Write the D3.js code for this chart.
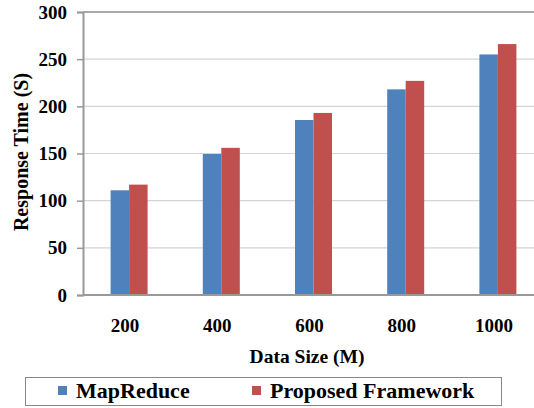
<!DOCTYPE html>
<html><head><meta charset="utf-8">
<script src="https://cdn.jsdelivr.net/npm/d3@7"></script>
<style>body{margin:0;background:#fff}svg{display:block}
svg text{font-family:"Liberation Serif","Times New Roman",Tinos,"DejaVu Serif",serif !important;font-weight:bold;fill:#000}</style>
</head><body>
<svg id="c" width="534" height="408"></svg>
<script>
const categories = ["200","400","600","800","1000"];
const mapReduce = [111, 149.5, 185.5, 218, 255];
const proposed = [117, 156, 193, 227, 266];
const seriesNames = ["MapReduce","Proposed Framework"];
const yTicks = [0,50,100,150,200,250,300];
const colors = ["#4F81BD","#C0504D"];

const svg = d3.select("#c");
const m = {l:83, t:12, b:295};
const plotW = 461;

const x = d3.scaleBand().domain(categories).range([m.l, m.l+plotW]).paddingInner(0).paddingOuter(0);
const y = d3.scaleLinear().domain([0,300]).range([m.b, m.t]);
const bw = 18.5;

// gridlines
svg.append("g").selectAll("line").data(yTicks.filter(d=>d>0 && d<300)).join("line")
  .attr("x1", m.l).attr("x2", m.l+plotW).attr("y1", d=>y(d)).attr("y2", d=>y(d))
  .attr("stroke","#d4d4d4").attr("stroke-width",1.2);
// top border
svg.append("line").attr("x1", m.l).attr("x2", m.l+plotW).attr("y1", y(300)).attr("y2", y(300))
  .attr("stroke","#555").attr("stroke-width",1.2);

// bars
const data = categories.map((c,i)=>({c, vals:[mapReduce[i], proposed[i]]}));
const g = svg.append("g");
data.forEach(d=>{
  d.vals.forEach((v,j)=>{
    const cx = x(d.c) + x.bandwidth()/2;
    g.append("rect")
      .attr("x", cx - bw + j*bw).attr("width", bw)
      .attr("y", y(v)).attr("height", y(0)-y(v))
      .attr("fill", colors[j]);
  });
});

// y axis
const ya = d3.axisLeft(y).tickValues(yTicks).tickSize(6).tickPadding(10);
const yg = svg.append("g").attr("transform",`translate(${m.l},0)`).call(ya);
yg.attr("font-family",null);
yg.select(".domain").attr("stroke","#999").attr("stroke-width",2);
yg.selectAll(".tick line").attr("stroke","#999").attr("stroke-width",1.5);
yg.selectAll(".tick text").attr("font-size",19);

// x axis
const xa = d3.axisBottom(x).tickSize(0).tickPadding(24);
const xg = svg.append("g").attr("transform",`translate(-4,${m.b})`).call(xa);
xg.attr("font-family",null);
xg.select(".domain").remove();
xg.selectAll(".tick text").attr("font-size",19);
svg.append("line").attr("x1", m.l).attr("x2", m.l+plotW).attr("y1", m.b).attr("y2", m.b)
  .attr("stroke","#999").attr("stroke-width",2);

// titles
svg.append("text").attr("x",307).attr("y",363).attr("text-anchor","middle")
  .attr("font-size",19.5).text("Data Size (M)");
svg.append("text").attr("transform","translate(28,152) rotate(-90)").attr("text-anchor","middle")
  .attr("font-size",20).text("Response Time (S)");

// legend
svg.append("rect").attr("x",25.5).attr("y",377.5).attr("width",476).attr("height",28)
  .attr("fill","#fff").attr("stroke","#888").attr("stroke-width",1);
const lx = [58, 252];
seriesNames.forEach((n,i)=>{
  svg.append("rect").attr("x",lx[i]).attr("y",386).attr("width",9).attr("height",9).attr("fill",colors[i]);
  svg.append("text").attr("x",lx[i]+18).attr("y",398).attr("font-size",22).text(n);
});
</script>
</body></html>
